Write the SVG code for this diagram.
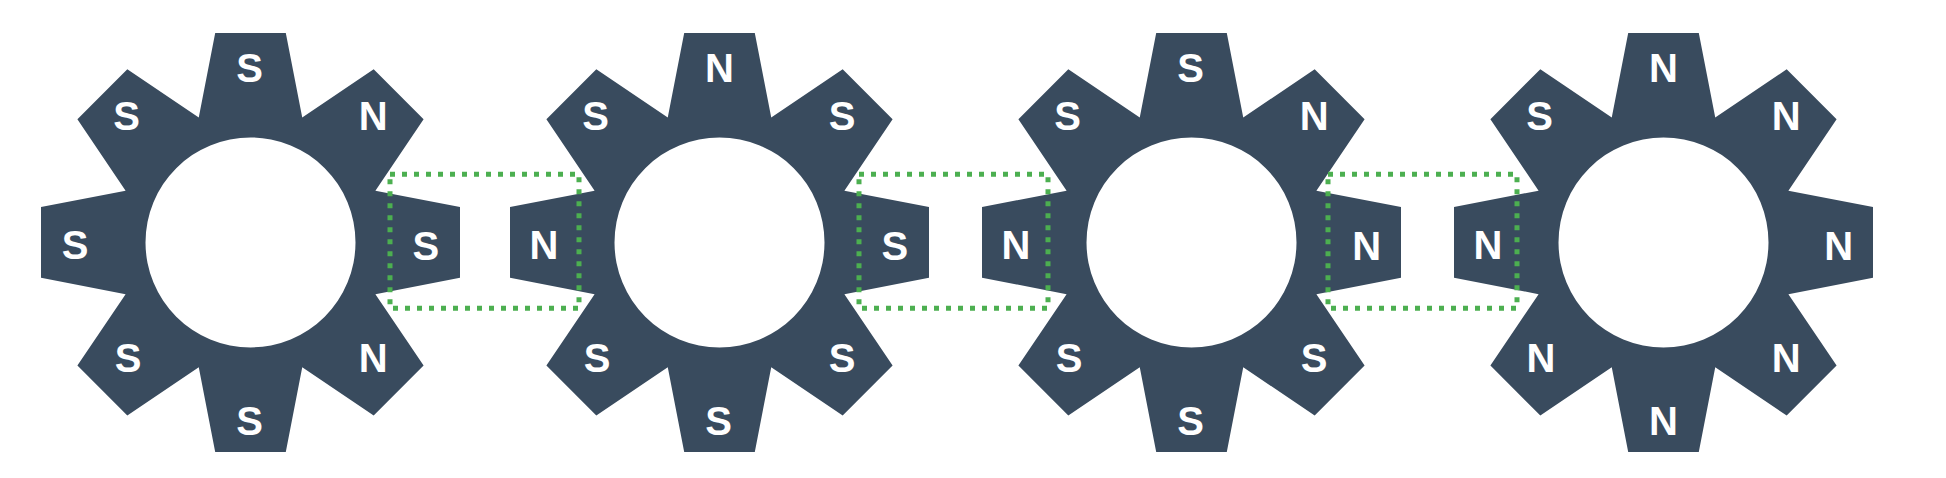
<svg xmlns="http://www.w3.org/2000/svg" xmlns:xlink="http://www.w3.org/1999/xlink" width="1946" height="478" viewBox="0 0 1946 478">
<style>
.gear{fill:#394b5e;fill-rule:evenodd}
.lbl{font-family:"Liberation Sans",Arial,Helvetica,sans-serif;font-weight:bold;font-size:40px;fill:#ffffff;text-anchor:middle}
.pair{fill:none;stroke:#4caf50;stroke-width:5;stroke-dasharray:5 7}
</style>
<defs>
<path id="gearShape" d="M -35.3,-209.5 L 35.3,-209.5 L 51.74,-124.91 L 123.18,-173.1 L 173.1,-123.18 L 124.91,-51.74 L 209.5,-35.3 L 209.5,35.3 L 124.91,51.74 L 173.1,123.18 L 123.18,173.1 L 51.74,124.91 L 35.3,209.5 L -35.3,209.5 L -51.74,124.91 L -123.18,173.1 L -173.1,123.18 L -124.91,51.74 L -209.5,35.3 L -209.5,-35.3 L -124.91,-51.74 L -173.1,-123.18 L -123.18,-173.1 L -51.74,-124.91 Z M 105,0 A 105,105 0 1 0 -105,0 A 105,105 0 1 0 105,0 Z"/>
</defs>
<rect width="1946" height="478" fill="#ffffff"/>

<g id="gear1" transform="translate(250.5,242.4)">
<use xlink:href="#gearShape" href="#gearShape" class="gear"/>
<text class="lbl" x="-1" y="-160.5">S</text>
<text class="lbl" x="122.7" y="-112.7">N</text>
<text class="lbl" x="175.3" y="17.3">S</text>
<text class="lbl" x="122.7" y="129.6">N</text>
<text class="lbl" x="-1" y="192.8">S</text>
<text class="lbl" x="-122.5" y="129.8">S</text>
<text class="lbl" x="-175.5" y="17">S</text>
<text class="lbl" x="-123.8" y="-112.2">S</text>
</g>

<g id="gear2" transform="translate(719.5,242.4)">
<use xlink:href="#gearShape" href="#gearShape" class="gear"/>
<text class="lbl" x="0" y="-160.5">N</text>
<text class="lbl" x="122.7" y="-112.7">S</text>
<text class="lbl" x="175.3" y="17.3">S</text>
<text class="lbl" x="122.7" y="129.6">S</text>
<text class="lbl" x="-1" y="192.8">S</text>
<text class="lbl" x="-122.5" y="129.8">S</text>
<text class="lbl" x="-175.5" y="17">N</text>
<text class="lbl" x="-123.8" y="-112.2">S</text>
</g>

<g id="gear3" transform="translate(1191.5,242.4)">
<use xlink:href="#gearShape" href="#gearShape" class="gear"/>
<text class="lbl" x="-1" y="-160.5">S</text>
<text class="lbl" x="122.7" y="-112.7">N</text>
<text class="lbl" x="175.3" y="17.3">N</text>
<text class="lbl" x="122.7" y="129.6">S</text>
<text class="lbl" x="-1" y="192.8">S</text>
<text class="lbl" x="-122.5" y="129.8">S</text>
<text class="lbl" x="-175.5" y="17">N</text>
<text class="lbl" x="-123.8" y="-112.2">S</text>
</g>

<g id="gear4" transform="translate(1663.5,242.4)">
<use xlink:href="#gearShape" href="#gearShape" class="gear"/>
<text class="lbl" x="0" y="-160.5">N</text>
<text class="lbl" x="122.7" y="-112.7">N</text>
<text class="lbl" x="175.3" y="17.3">N</text>
<text class="lbl" x="122.7" y="129.6">N</text>
<text class="lbl" x="0" y="192.8">N</text>
<text class="lbl" x="-122.5" y="129.8">N</text>
<text class="lbl" x="-175.5" y="17">N</text>
<text class="lbl" x="-123.8" y="-112.2">S</text>
</g>

<g id="connectors">
<rect class="pair" x="390" y="174.3" width="189" height="134"/>
<rect class="pair" x="859" y="174.3" width="189" height="134"/>
<rect class="pair" x="1328" y="174.3" width="189" height="134"/>
</g>
</svg>
